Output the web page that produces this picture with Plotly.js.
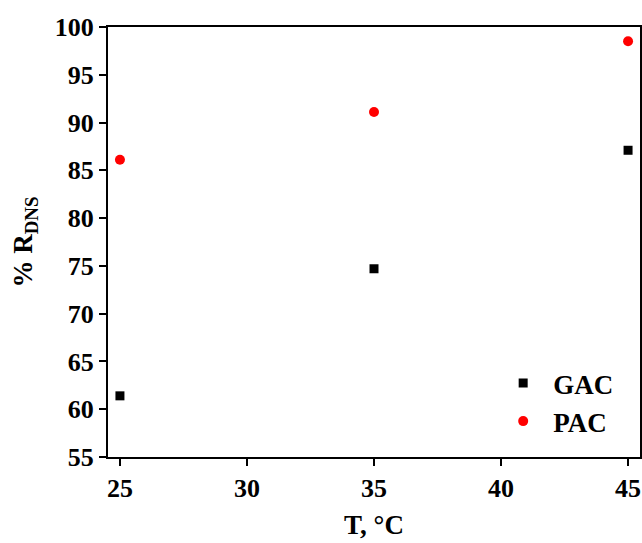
<!DOCTYPE html>
<html><head><meta charset="utf-8">
<script src="https://cdn.plot.ly/plotly-3.0.1.min.js"></script>
<style>body{margin:0;background:#fff}#chart{width:642px;height:543px}</style>
</head><body><div id="chart"></div>
<script>
const temps = [25, 35, 45];
const gac = [61.4, 74.7, 87.1];
const pac = [86.1, 91.1, 98.5];
const xTicks = [25, 30, 35, 40, 45];
const yTicks = [55, 60, 65, 70, 75, 80, 85, 90, 95, 100];
const fam = 'Liberation Serif, Times New Roman, serif';
const data = [
  {x: temps, y: gac, name: 'GAC', type: 'scatter', mode: 'markers',
   marker: {symbol: 'square', size: 9, color: '#000'}},
  {x: temps, y: pac, name: 'PAC', type: 'scatter', mode: 'markers',
   marker: {symbol: 'circle', size: 10, color: '#ff0000'}}
];
const axisBase = {showline: true, linecolor: '#000', linewidth: 2, mirror: true,
  ticks: 'outside', ticklen: 7, tickwidth: 2, tickcolor: '#000', showgrid: false, zeroline: false,
  tickfont: {family: fam, size: 26, color: '#000', weight: 'bold'}};
const layout = {
  width: 642, height: 543,
  margin: {l: 108, r: 2, t: 27, b: 86},
  paper_bgcolor: '#fff', plot_bgcolor: '#fff',
  font: {family: fam, size: 26, color: '#000'},
  xaxis: Object.assign({}, axisBase, {range: [24.53, 45.47], tickvals: xTicks, ticktext: xTicks.map(String),
    title: {text: '<b>T, °C</b>', font: {family: fam, size: 27, color: '#000'}, standoff: 13}}),
  yaxis: Object.assign({}, axisBase, {range: [55, 100], tickvals: yTicks, ticktext: yTicks.map(String),
    title: {text: '<b>% R<sub>DNS</sub></b>', font: {family: fam, size: 27, color: '#000'}, standoff: 14}}),
  showlegend: true,
  legend: {x: 0.724, y: 0.228, xanchor: 'left', yanchor: 'top', bgcolor: 'rgba(0,0,0,0)',
    font: {family: fam, size: 27, color: '#000', weight: 'bold'}, tracegroupgap: 0, itemwidth: 50}
};
Plotly.newPlot('chart', data, layout, {displayModeBar: false});
</script></body></html>
